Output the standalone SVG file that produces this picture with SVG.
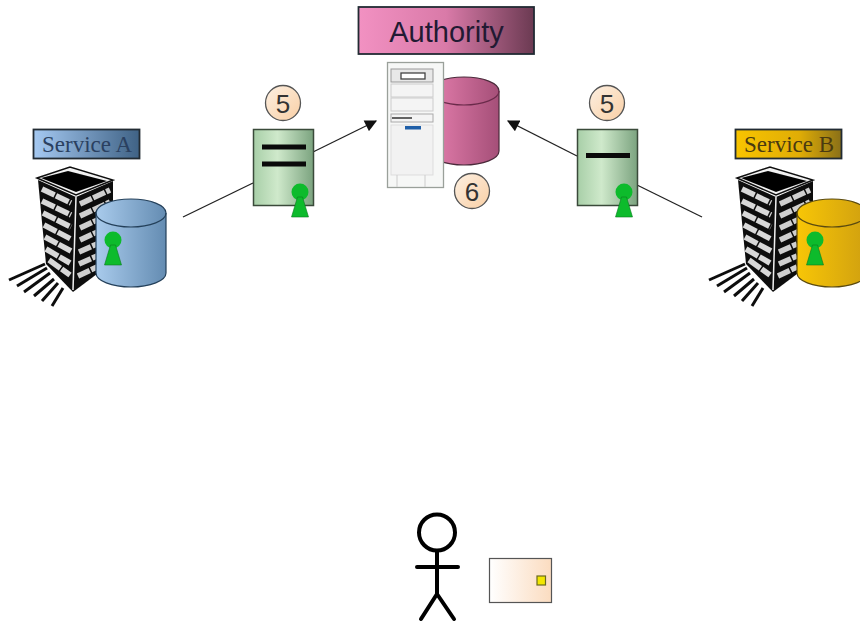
<svg xmlns="http://www.w3.org/2000/svg" width="860" height="623" viewBox="0 0 860 623">
<style>
.conn{stroke:#222;stroke-width:1.3;fill:none}
.box{stroke:#222b33;stroke-width:1.8}
.num{fill:url(#peach);stroke:#555;stroke-width:1.3}
.numt{font-family:"Liberation Sans",Arial,sans-serif;font-size:26px;fill:#333;text-anchor:middle}
.svc{font-family:"Liberation Serif","Times New Roman",serif;font-size:23px;text-anchor:middle}
.bar{fill:#0a0a0a}
.cert{fill:url(#green);stroke:#3a4a3a;stroke-width:1.5}
.man{fill:none;stroke:#000;stroke-width:4;stroke-linecap:round}
</style>
<defs>
<linearGradient id="peach" x1="0" y1="0" x2="1" y2="1"><stop offset="0" stop-color="#fdf0e2"/><stop offset="1" stop-color="#f9cfa5"/></linearGradient>
<linearGradient id="blueBox"><stop offset="0" stop-color="#a5c9f2"/><stop offset="1" stop-color="#3f6285"/></linearGradient>
<linearGradient id="goldBox"><stop offset="0" stop-color="#f8c400"/><stop offset="0.6" stop-color="#e0ad06"/><stop offset="1" stop-color="#8a7018"/></linearGradient>
<linearGradient id="pinkBox"><stop offset="0" stop-color="#f291c2"/><stop offset="0.5" stop-color="#d97aa8"/><stop offset="1" stop-color="#6b3a52"/></linearGradient>
<linearGradient id="green"><stop offset="0" stop-color="#a8cfa8"/><stop offset="0.4" stop-color="#cfe9cb"/><stop offset="1" stop-color="#7ba37f"/></linearGradient>
<linearGradient id="blueCyl"><stop offset="0" stop-color="#a9cbec"/><stop offset="1" stop-color="#648cb2"/></linearGradient>
<linearGradient id="goldCyl"><stop offset="0" stop-color="#f8c606"/><stop offset="1" stop-color="#d0a010"/></linearGradient>
<linearGradient id="pinkCyl"><stop offset="0" stop-color="#e57fae"/><stop offset="1" stop-color="#a54f78"/></linearGradient>
<linearGradient id="card"><stop offset="0" stop-color="#fff"/><stop offset="1" stop-color="#fbdcc0"/></linearGradient>
<filter id="soft" x="-5%" y="-5%" width="110%" height="110%"><feGaussianBlur stdDeviation="0.6"/></filter>
<marker id="arrow" viewBox="0 0 10 10" refX="9" refY="5" markerWidth="13" markerHeight="12" markerUnits="userSpaceOnUse" orient="auto"><path d="M0 0L10 5L0 10Z" fill="#111"/></marker>
<g id="key"><circle cx="0" cy="0" r="8.500" fill="#0dbb2c"/><path d="M-2.500 5L-8.500 25H8.500L2.500 5Z" fill="#0dbb2c" stroke="#0a7a20" stroke-width="0.6"/></g>
<g id="tower" filter="url(#soft)">
<path d="M45 264L9 280M47 268L17 286M50 273L24 292M54 279L34 296M58 283L42 301M63 288L52 306" stroke="#111" stroke-width="3" fill="none"/>
<path d="M37 178L70 167L113 180L76 195Z" fill="#f2f2f2" stroke="#111" stroke-width="1.5"/>
<path d="M41 178L68 171L107 181L76 192Z" fill="#060606"/>
<path d="M38 180L76 197L73 292L46 264Z" fill="#111"/>
<path d="M76 197L113 181L113 262L73 292Z" fill="#111"/>
<path d="M42 189L71 203M42 201L71 215M43 213L71 227M44 225L71 239M45 237L71 251M46 249L70 263M49 260L70 275" stroke="#d8d8d8" stroke-width="5.500" stroke-dasharray="14 1.500" fill="none"/>
<path d="M80 204L110 190M80 216L110 202M80 228L110 214M80 240L110 226M79 252L97 244M79 264L97 256M78 276L97 267" stroke="#cfcfcf" stroke-width="5.500" stroke-dasharray="13 1.500" fill="none"/>
<path d="M76 197L73 290" stroke="#eee" stroke-width="1.500"/>
</g>
</defs>
<rect width="860" height="623" fill="#fff"/>
<g id="connectors">
<line class="conn" x1="183" y1="217" x2="253" y2="183"/>
<line class="conn" x1="313" y1="152" x2="376" y2="121" marker-end="url(#arrow)"/>
<line class="conn" x1="577" y1="156" x2="508" y2="121" marker-end="url(#arrow)"/>
<line class="conn" x1="637" y1="185" x2="702" y2="217"/>
</g>
<g id="authority">
<rect class="box" x="358.500" y="7" width="175.500" height="47" fill="url(#pinkBox)"/>
<text x="446.500" y="42" font-family="'Liberation Sans',Arial,sans-serif" font-size="29" fill="#221a33" text-anchor="middle">Authority</text>
<path d="M429 91V151A35 14 0 0 0 499 151V91A35 14 0 0 0 429 91Z" fill="url(#pinkCyl)" stroke="#4a2a3a" stroke-width="1.200"/>
<path d="M429 91A35 14 0 0 0 499 91" fill="none" stroke="#6a2a4a" stroke-width="1.200"/>
<rect x="387.500" y="62.500" width="56" height="125" fill="#f6f7f6" stroke="#9aa09a" stroke-width="1.300"/>
<rect x="391" y="69" width="42" height="13" fill="#e8e8e8" stroke="#999"/>
<rect x="401" y="73" width="24" height="6" fill="#fff" stroke="#444" stroke-width="1.300"/>
<rect x="391" y="84" width="42" height="13" fill="#f4f4f4" stroke="#ccc"/>
<rect x="391" y="98" width="42" height="13" fill="#f4f4f4" stroke="#ccc"/>
<rect x="391" y="114" width="42" height="8" fill="#f4f4f4" stroke="#aaa"/>
<path d="M392 118H412" stroke="#333" stroke-width="1.500"/>
<rect x="391" y="125" width="42" height="50" fill="#f2f2f2" stroke="#ddd"/>
<rect x="405" y="126" width="16" height="3.500" fill="#1f5fa8"/>
<path d="M397 175V187M425 175V187" stroke="#ccc" fill="none"/>
</g>
<g id="badge-6"><circle class="num" cx="472" cy="191" r="17.500"/><text class="numt" x="472" y="200.500">6</text></g>
<g id="badge-5a"><circle class="num" cx="283" cy="103" r="17.500"/><text class="numt" x="283" y="112.500">5</text></g>
<g id="badge-5b"><circle class="num" cx="607" cy="103" r="17.500"/><text class="numt" x="607" y="112.500">5</text></g>
<g id="cert-a">
<rect class="cert" x="253.500" y="129.500" width="60" height="76"/>
<rect class="bar" x="262" y="144.500" width="44" height="5"/>
<rect class="bar" x="262" y="161.500" width="44" height="5"/>
<use href="#key" x="300" y="192"/>
</g>
<g id="cert-b">
<rect class="cert" x="577.500" y="129.500" width="60" height="76"/>
<rect class="bar" x="586" y="153" width="44" height="5"/>
<use href="#key" x="624" y="192"/>
</g>
<g id="service-a">
<rect class="box" x="33.500" y="129.500" width="106" height="29" fill="url(#blueBox)"/>
<text class="svc" x="87" y="152" fill="#2a4060">Service A</text>
<use href="#tower"/>
<path d="M96 213V273A35 14 0 0 0 166 273V213A35 14 0 0 0 96 213Z" fill="url(#blueCyl)" stroke="#24405a" stroke-width="1.200"/>
<path d="M96 213A35 14 0 0 0 166 213" fill="none" stroke="#24405a" stroke-width="1.200"/>
<use href="#key" x="113" y="240"/>
</g>
<g id="service-b">
<rect class="box" x="735.500" y="129.500" width="106" height="29" fill="url(#goldBox)"/>
<text class="svc" x="789" y="152" fill="#4a3a10">Service B</text>
<use href="#tower" x="700"/>
<path d="M797 213V273A35 14 0 0 0 867 273V213A35 14 0 0 0 797 213Z" fill="url(#goldCyl)" stroke="#5a4a10" stroke-width="1.200"/>
<path d="M797 213A35 14 0 0 0 867 213" fill="none" stroke="#5a4a10" stroke-width="1.200"/>
<use href="#key" x="815" y="240"/>
</g>
<g id="user">
<circle class="man" cx="437" cy="532.500" r="18"/>
<path class="man" d="M437 551V594M417 567H458M437 594L421 619M437 594L454 619"/>
</g>
<g id="token">
<rect x="489.500" y="558.500" width="62" height="44" fill="url(#card)" stroke="#555" stroke-width="1.200"/>
<rect x="537" y="576" width="8.500" height="9" fill="#f2e600" stroke="#6a6a20" stroke-width="1.200"/>
</g>
</svg>
